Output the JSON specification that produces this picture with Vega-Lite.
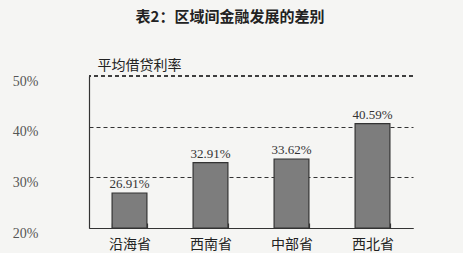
{
  "$schema": "https://vega.github.io/schema/vega-lite/v6.json",
  "width": 324,
  "height": 152,
  "autosize": {"type": "none"},
  "padding": {"left": 89, "top": 76, "right": 50, "bottom": 25},
  "background": "#f5f5f3",
  "title": {
    "text": "表2：区域间金融发展的差别",
    "font": "Noto Sans CJK SC",
    "fontSize": 15,
    "fontWeight": "bold",
    "color": "#222222",
    "anchor": "middle",
    "frame": "group",
    "dx": -21,
    "offset": 33
  },
  "data": {
    "values": [
      {"region": "沿海省", "rate": 0.2691},
      {"region": "西南省", "rate": 0.3291},
      {"region": "中部省", "rate": 0.3362},
      {"region": "西北省", "rate": 0.4059}
    ]
  },
  "config": {
    "view": {"stroke": null},
    "axis": {"domainColor": "#333333", "domainWidth": 1.2}
  },
  "encoding": {
    "x": {
      "field": "region",
      "type": "nominal",
      "sort": null,
      "scale": {"paddingInner": 0.57, "paddingOuter": 0.285},
      "axis": {
        "title": null,
        "labelAngle": 0,
        "labelFont": "Noto Sans CJK SC",
        "labelFontSize": 14,
        "labelColor": "#222222",
        "labelPadding": 14,
        "tickBand": "extent",
        "tickSize": -5,
        "tickWidth": 1.2,
        "tickColor": "#333333",
        "grid": false
      }
    },
    "y": {
      "field": "rate",
      "type": "quantitative",
      "scale": {"domain": [0.2, 0.5], "nice": false, "zero": false},
      "axis": {
        "values": [0.2, 0.3, 0.4, 0.5],
        "format": ".0%",
        "ticks": false,
        "labelFont": "Liberation Serif",
        "labelFontSize": 14,
        "labelColor": "#555555",
        "labelPadding": 51,
        "labelOffset": 5,
        "grid": true,
        "gridColor": "#333333",
        "gridDash": [4, 3],
        "gridWidth": 1,
        "gridOpacity": {"condition": {"test": "datum.value >= 0.49", "value": 0}, "value": 1},
        "title": "平均借贷利率",
        "titleFont": "Noto Sans CJK SC",
        "titleFontSize": 14,
        "titleFontWeight": "normal",
        "titleColor": "#222222",
        "titleAngle": 0,
        "titleAlign": "left",
        "titleBaseline": "bottom",
        "titleX": 8,
        "titleY": -4
      }
    }
  },
  "layer": [
    {
      "mark": {"type": "rule", "color": "#333333", "strokeDash": [4, 3], "strokeWidth": 1},
      "encoding": {"y": {"datum": 0.5}, "x": null}
    },
    {
      "mark": {"type": "bar", "color": "#7d7d7d", "stroke": "#333333", "strokeWidth": 1.2},
      "encoding": {"y2": {"datum": 0.2}}
    },
    {
      "mark": {
        "type": "text",
        "baseline": "bottom",
        "dy": -2,
        "font": "Liberation Serif",
        "fontSize": 13,
        "color": "#333333"
      },
      "encoding": {"text": {"field": "rate", "type": "quantitative", "format": ".2%"}}
    }
  ]
}
